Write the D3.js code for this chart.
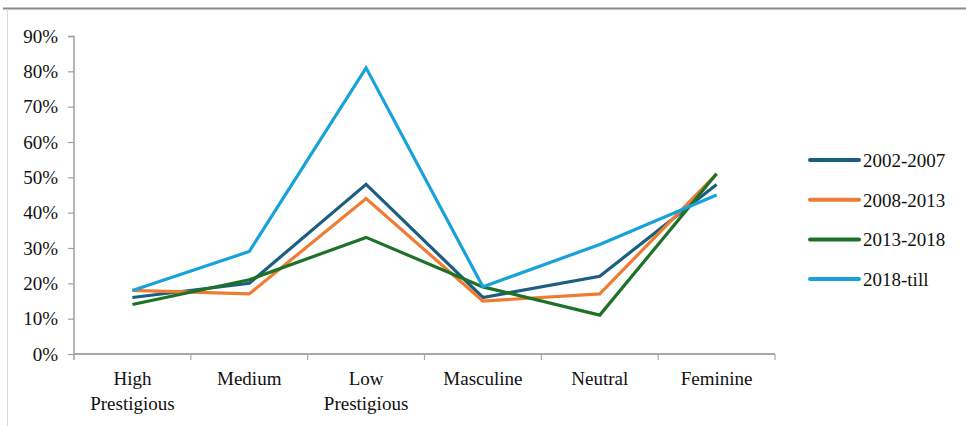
<!DOCTYPE html>
<html>
<head>
<meta charset="utf-8">
<script src="https://cdn.jsdelivr.net/npm/d3@7"></script>
<style>
  html, body { margin: 0; padding: 0; background: #fff; }
  svg { display: block; }
  text { font-family: "Liberation Serif", "Times New Roman", serif; fill: #111; }
</style>
</head>
<body>
<svg id="chart" width="966" height="426"></svg>
<script>
// Occupation categories along the x axis (line breaks marked with \n)
const categories = ["High\nPrestigious", "Medium", "Low\nPrestigious", "Masculine", "Neutral", "Feminine"];
const seriesNames = ["2002-2007", "2008-2013", "2013-2018", "2018-till"];
const seriesColors = ["#1b5e80", "#ee7d33", "#1d7228", "#17a3d9"];
// Share of each category per period (%)
const values2002 = [16, 20, 48, 16, 22, 48];
const values2008 = [18, 17, 44, 15, 17, 51];
const values2013 = [14, 21, 33, 19, 11, 51];
const values2018 = [18, 29, 81, 19, 31, 45];
const yTicks = [0, 10, 20, 30, 40, 50, 60, 70, 80, 90];

const series = seriesNames.map((name, i) => ({
  name,
  color: seriesColors[i],
  values: [values2002, values2008, values2013, values2018][i]
}));

const svg = d3.select("#chart");

// frame edges
svg.append("line").attr("x1", 3).attr("x2", 966).attr("y1", 8.5).attr("y2", 8.5)
  .attr("stroke", "#8a8a8a").attr("stroke-width", 2);
svg.append("line").attr("x1", 7.5).attr("x2", 7.5).attr("y1", 9).attr("y2", 426)
  .attr("stroke", "#dcdcdc").attr("stroke-width", 1);

const x = d3.scaleBand().domain(categories).range([74, 775]);
const y = d3.scaleLinear().domain([0, 90]).range([354, 36]);

// y axis
const yAxis = svg.append("g").attr("transform", "translate(74,0)")
  .call(d3.axisLeft(y).tickValues(yTicks).tickFormat(d => d + "%").tickSize(6).tickPadding(10));
yAxis.select(".domain").attr("stroke", "#a0a0a0").attr("stroke-width", 1.5)
  .attr("d", "M-6,36.5H0V360");
yAxis.selectAll(".tick line").attr("stroke", "#a0a0a0").attr("stroke-width", 1.2);
yAxis.selectAll(".tick text").style("font-size", "19px").attr("fill", "#111")
  .style("font-family", "'Liberation Serif', serif");

// x axis with tick marks at band boundaries
const xg = svg.append("g").attr("transform", "translate(0,354)");
xg.append("line").attr("x1", 74).attr("x2", 775).attr("y1", 0).attr("y2", 0)
  .attr("stroke", "#a8a8a8").attr("stroke-width", 2);
const bounds = categories.map(c => x(c) + x.bandwidth());
xg.selectAll("line.tk").data(bounds).enter().append("line").attr("class", "tk")
  .attr("x1", d => d).attr("x2", d => d).attr("y1", 0).attr("y2", 6)
  .attr("stroke", "#a8a8a8").attr("stroke-width", 1.2);
const lbl = xg.selectAll("text.cat").data(categories).enter().append("text").attr("class", "cat")
  .attr("text-anchor", "middle").style("font-size", "19px")
  .attr("x", d => x(d) + x.bandwidth() / 2);
lbl.each(function(d) {
  const t = d3.select(this);
  d.split("\n").forEach((part, i) => {
    t.append("tspan").attr("x", x(d) + x.bandwidth() / 2).attr("y", 31 + i * 25).text(part);
  });
});

// lines
const line = d3.line()
  .x((d, i) => x(categories[i]) + x.bandwidth() / 2)
  .y(d => y(d));
svg.append("g").selectAll("path").data(series).enter().append("path")
  .attr("d", d => line(d.values))
  .attr("fill", "none").attr("stroke", d => d.color).attr("stroke-width", 3.2)
  .attr("stroke-linejoin", "miter");

// legend
const lg = svg.append("g").selectAll("g").data(series).enter().append("g")
  .attr("transform", (d, i) => `translate(810,${160 + i * 39.7})`);
lg.append("line").attr("x1", 0).attr("x2", 49).attr("y1", 0).attr("y2", 0)
  .attr("stroke", d => d.color).attr("stroke-width", 4).attr("stroke-linecap", "round");
lg.append("text").attr("x", 53).attr("y", 7).style("font-size", "19px").text(d => d.name);
</script>
</body>
</html>
